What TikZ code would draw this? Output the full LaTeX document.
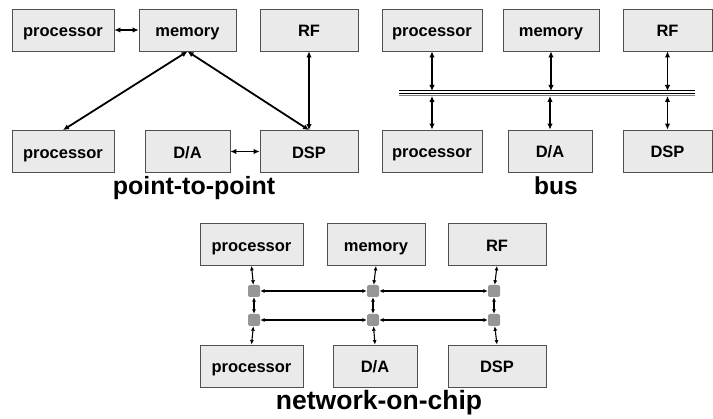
\documentclass[tikz,border=0pt]{standalone}
\usepackage{fontspec}
\setmainfont{Liberation Sans}
\usetikzlibrary{arrows.meta}
\definecolor{boxfill}{RGB}{234,234,234}
\definecolor{boxline}{RGB}{80,80,80}
\definecolor{router}{RGB}{150,150,150}
\begin{document}
\begin{tikzpicture}[x=1pt,y=-1pt,
  unit/.style={draw=boxline, line width=0.8pt, fill=boxfill, inner sep=0pt,
    minimum height=42pt, text height=17pt, text depth=3pt,
    font=\bfseries\fontsize{16.5}{18}\selectfont},
  title/.style={anchor=base, inner sep=0pt, font=\bfseries\fontsize{25}{28}\selectfont},
  link/.style={line width=1.8pt, {Latex[length=6pt,width=5.5pt]}-{Latex[length=6pt,width=5.5pt]}},
  nlink/.style={line width=1.1pt, {Latex[length=4.5pt,width=4pt]}-{Latex[length=4.5pt,width=4pt]}},
  rtr/.style={fill=router, rounded corners=2pt, minimum size=12pt, inner sep=0pt},
  busline/.style={line width=1.2pt}]
\useasboundingbox (0,0) rectangle (713,419);

% ---------- point-to-point ----------
\node[unit, minimum width=102pt] (p1) at (63,30) {processor};
\node[unit, minimum width=97pt]  (m1) at (187.5,30) {memory};
\node[unit, minimum width=98pt]  (rf1) at (309,30) {RF};
\node[unit, minimum width=102pt] (p2) at (63,151.5) {processor};
\node[unit, minimum width=85pt]  (da1) at (187.5,151.5) {D/A};
\node[unit, minimum width=98pt]  (dsp1) at (309,151.5) {DSP};
\draw[link] (p1.east) -- (m1.west);
\draw[link] (m1.south) -- (p2.north);
\draw[link] (m1.south) -- (dsp1.north);
\draw[link] (rf1.south) -- (dsp1.north);
\draw[link] (da1.east) -- (dsp1.west);
\node[title] (t1) at (194,195) {point-to-point};

% ---------- bus ----------
\node[unit, minimum width=100pt] (p3) at (432,30) {processor};
\node[unit, minimum width=96pt]  (m3) at (551,30) {memory};
\node[unit, minimum width=89pt]  (rf3) at (667.5,30) {RF};
\node[unit, minimum width=100pt] (p4) at (432,151) {processor};
\node[unit, minimum width=84pt]  (da4) at (550,151) {D/A};
\node[unit, minimum width=89pt]  (dsp4) at (667.5,151) {DSP};
\coordinate (busL) at (399,93.3);
\coordinate (busR) at (695,93.3);
\draw[busline, draw=gray] ([yshift=-2.4pt]busL) -- ([yshift=-2.4pt]busR);
\draw[busline] (busL) -- (busR);
\draw[busline] ([yshift=2.4pt]busL) -- ([yshift=2.4pt]busR);
\coordinate (bustop) at (0,91);
\coordinate (busbot) at (0,96);
\foreach \n in {p3,m3,rf3} \draw[link] (\n.south) -- (\n.south |- bustop);
\foreach \n in {p4,da4,dsp4} \draw[link] (\n.north |- busbot) -- (\n.north);
\node[title, font=\bfseries\fontsize{24.5}{28}\selectfont] (t2) at (556,195) {bus};

% ---------- network-on-chip ----------
\node[unit, minimum width=103pt] (p5) at (251.5,244.5) {processor};
\node[unit, minimum width=98pt]  (m5) at (376,244.5) {memory};
\node[unit, minimum width=98pt]  (rf5) at (497,244.5) {RF};
\node[unit, minimum width=103pt] (p6) at (251.5,366) {processor};
\node[unit, minimum width=84pt]  (da6) at (375,366) {D/A};
\node[unit, minimum width=98pt]  (dsp6) at (497,366) {DSP};
\node[rtr] (r11) at (254,291) {};
\node[rtr] (r12) at (373,291) {};
\node[rtr] (r13) at (494,291) {};
\node[rtr] (r21) at (254,320) {};
\node[rtr] (r22) at (373,320) {};
\node[rtr] (r23) at (494,320) {};
\draw[nlink] (p5.south) -- (r11);
\draw[nlink] (m5.south) -- (r12);
\draw[nlink] (rf5.south) -- (r13);
\draw[nlink] (r11) -- (r21);
\draw[nlink] (r12) -- (r22);
\draw[nlink] (r13) -- (r23);
\draw[nlink] (r21) -- (p6.north);
\draw[nlink] (r22) -- (da6.north);
\draw[nlink] (r23) -- (dsp6.north);
\draw[nlink] (r11) -- (r12);
\draw[nlink] (r12) -- (r13);
\draw[nlink] (r21) -- (r22);
\draw[nlink] (r22) -- (r23);
\node[title, font=\bfseries\fontsize{26.5}{30}\selectfont] (t3) at (379,410) {network-on-chip};
\end{tikzpicture}
\end{document}
